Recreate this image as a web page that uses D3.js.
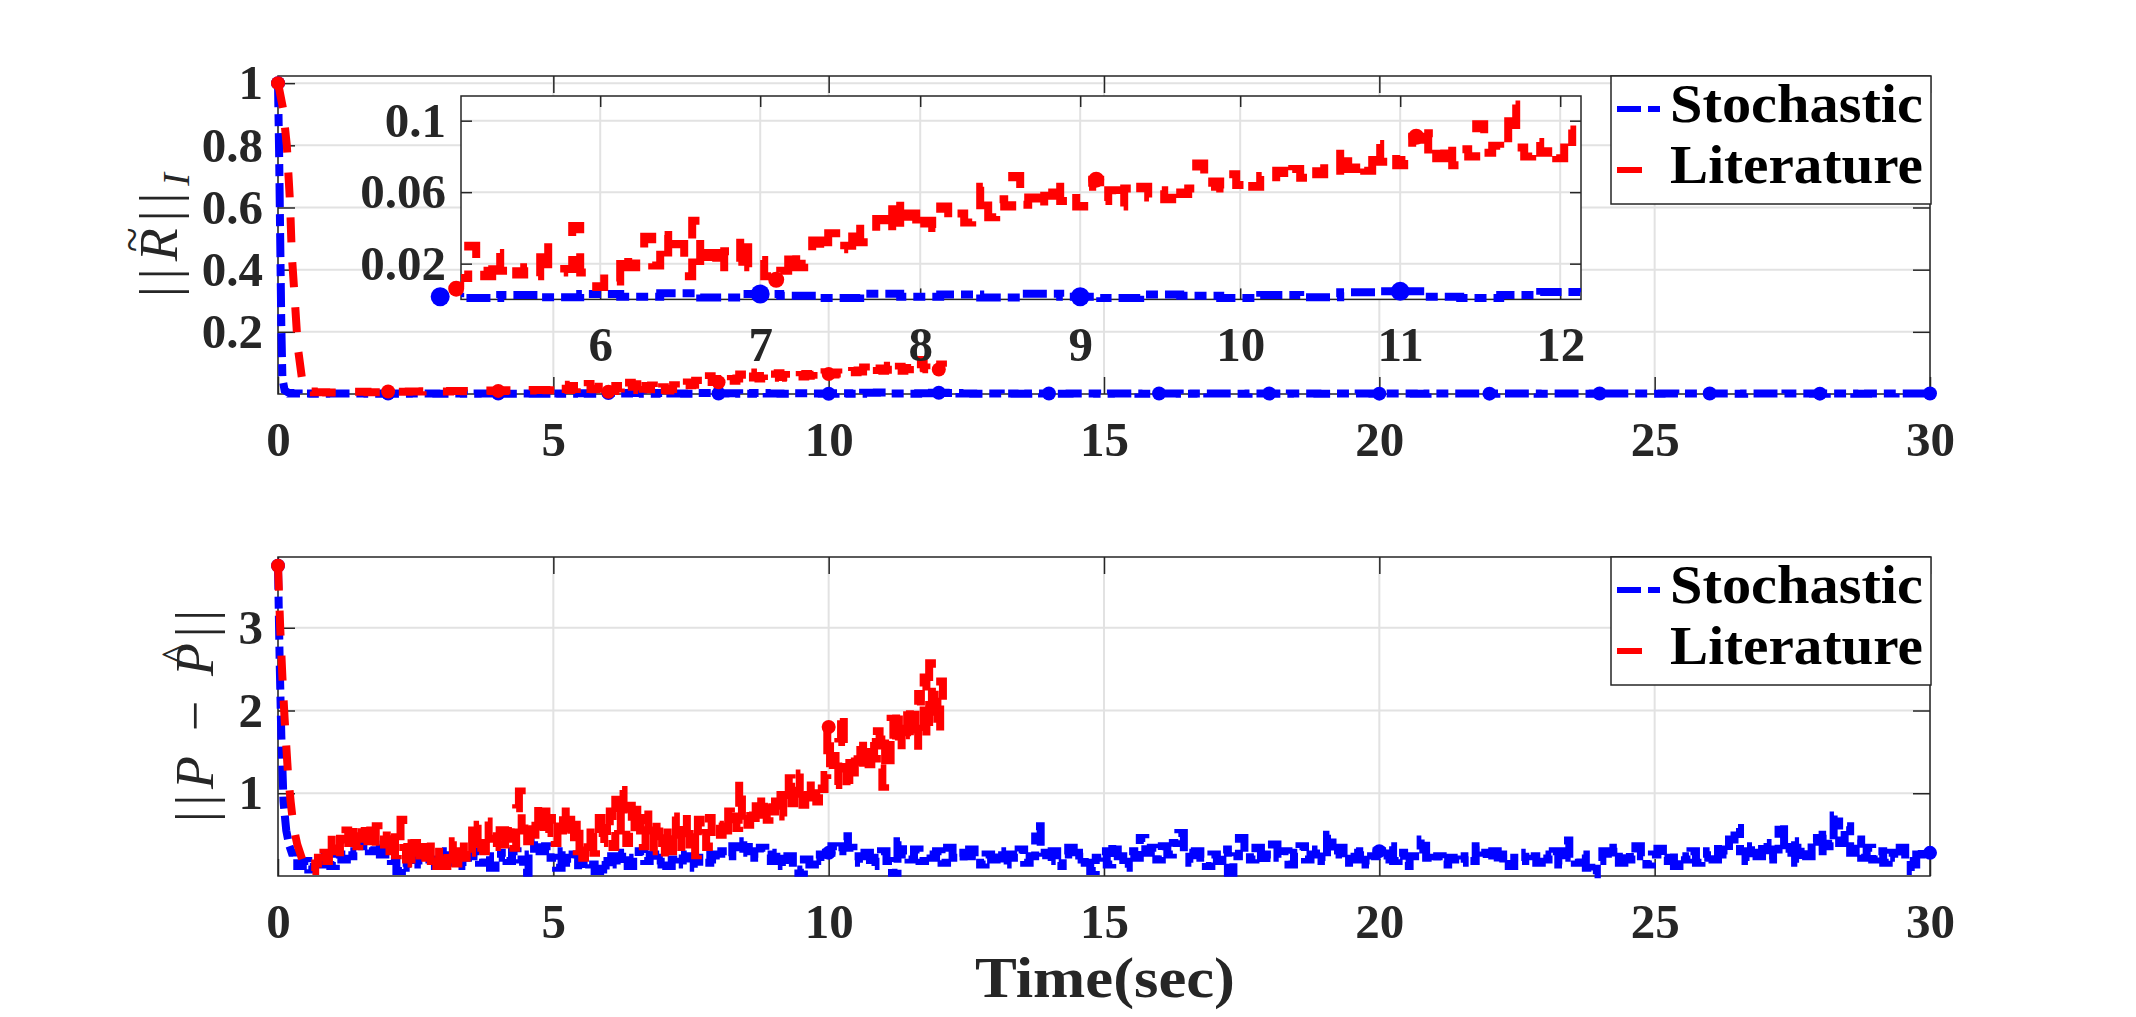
<!DOCTYPE html>
<html><head><meta charset="utf-8">
<script src="https://cdn.jsdelivr.net/npm/d3@7"></script>
<style>body{margin:0;background:#fff}svg{display:block}</style>
</head><body>
<svg id="chart" width="2136" height="1017"></svg>
<script>
// ---------------- DATA ----------------
const seriesNames = ["Stochastic", "Literature"];
const xTicksMain = [0, 5, 10, 15, 20, 25, 30];
const yTicksTop = [0.2, 0.4, 0.6, 0.8, 1];
const yTickLabelsTop = ["0.2", "0.4", "0.6", "0.8", "1"];
const yTicksBottom = [1, 2, 3];
const yTickLabelsBottom = ["1", "2", "3"];
const xTicksInset = [6, 7, 8, 9, 10, 11, 12];
const yTicksInset = [0.02, 0.06, 0.1];
const yTickLabelsInset = ["0.02", "0.06", "0.1"];
const xLabel = "Time(sec)";

// Top panel, Stochastic (blue)
const topBlueDecayT = [0, 0.02, 0.04, 0.06, 0.08, 0.12, 0.2];
const topBlueDecayV = [1.0, 0.78, 0.5, 0.22, 0.05, 0.012, 0.003];
const topBlueStart = 0.25, topBlueStep = 0.25;
const topBlueV = [
  0.002,0.0015,0.001,0.0015,0.002,0.0015,0.001,0.0015,
  0.0012,0.0018,0.0015,0.001,0.0016,0.0012,0.0018,0.0014,
  0.0012,0.0016,0.001,0.0015,0.0008,0.0025,0.0012,0.003,
  0.0015,0.0035,0.001,0.003,0.002,0.0008,0.0032,0.0015,
  0.0028,0.001,0.0032,0.0015,0.0008,0.0028,0.002,0.0008,
  0.0025,0.0012,0.004,0.0045,0.0015,0.0008,0.0025,0.0042,
  0.003,0.0015,0.0012,0.0018,0.0014,0.0012,0.0016,0.0014,
  0.0012,0.0016,0.0014,0.0012,0.0018,0.0014,0.0012,0.0016,
  0.0014,0.0012,0.0016,0.0013,0.0015,0.0012,0.0016,0.0014,
  0.0012,0.0016,0.0014,0.0012,0.0015,0.0013,0.0016,0.0012,
  0.0014,0.0016,0.0012,0.0015,0.0013,0.0016,0.0014,0.0012,
  0.0016,0.0013,0.0015,0.0012,0.0016,0.0014,0.0012,0.0015,
  0.0013,0.0016,0.0014,0.0012,0.0016,0.0015,0.0013,0.0016,
  0.0014,0.0012,0.0016,0.0015,0.0013,0.0016,0.0014,0.0012,
  0.0016,0.0014,0.0012,0.0015,0.0013,0.0016,0.0014,0.0015
];

// Top panel, Literature (red)
const topRedDecayT = [0, 0.09, 0.16, 0.22, 0.25, 0.31, 0.36, 0.45, 0.55];
const topRedDecayV = [1.0, 0.92, 0.8, 0.61, 0.45, 0.29, 0.15, 0.03, 0.008];
const topRedMidStart = 0.75, topRedMidStep = 0.25;
const topRedMidV = [0.006,0.005,0.006,0.007,0.006,0.008,0.007,0.008,0.009,0.008,0.010,0.009,0.011,0.010,0.012,0.011,0.013,0.012];
const topRedFineStart = 5.05, topRedFineStep = 0.05;
const topRedFineV = [
  0.010,0.006,0.012,0.030,0.016,0.013,0.026,0.016,0.020,0.014,0.018,0.013,0.032,0.016,0.015,0.017,0.041,0.015,0.010,
  0.007,0.014,0.010,0.026,0.018,0.024,0.035,0.019,0.036,0.023,0.031,0.013,0.044,0.017,0.026,0.015,0.027,0.021,0.036,0.018,
  0.022,0.013,0.011,0.016,0.028,0.018,0.020,0.033,0.026,0.037,0.028,0.030,0.043,0.032,0.036,0.045,0.037,0.057,0.039,0.048,
  0.038,0.044,0.040,0.052,0.044,0.048,0.043,0.050,0.063,0.046,0.056,0.052,0.069,0.053,0.057,0.050,0.058,0.067,0.055,0.060,
  0.052,0.063,0.067,0.055,0.061,0.052,0.062,0.058,0.063,0.057,0.061,0.056,0.064,0.059,0.062,0.076,0.063,0.066,0.062,0.070,
  0.064,0.068,0.063,0.069,0.066,0.072,0.067,0.073,0.068,0.074,0.070,0.076,0.072,0.085,0.073,0.078,0.072,0.087,0.077,0.082,
  0.075,0.078,0.091,0.081,0.093,0.079,0.088,0.075,0.084,0.080,0.098,0.082,0.086,0.083,0.109,0.085,0.080,0.088,0.082,0.086,
  0.079,0.095,0.088
];

// Bottom panel, Stochastic (blue)
const botBlueDecayT = [0, 0.03, 0.06, 0.1, 0.15, 0.2, 0.25];
const botBlueDecayV = [3.75, 2.6, 1.7, 0.9, 0.55, 0.38, 0.28];
const botBlueStart = 0.3, botBlueStep = 0.1;
const botBlueV = [
  0.22,0.12,0.18,0.08,0.20,0.14,0.24,
  0.12,0.26,0.20,0.30,0.24,0.36,0.44,0.30,0.38,0.26,
  0.40,0.18,0.06,0.16,0.10,0.24,0.14,0.30,0.20,0.12,
  0.20,0.30,0.16,0.26,0.12,0.24,0.30,0.16,0.24,0.10,
  0.22,0.28,0.18,0.30,0.20,0.04,0.26,0.42,0.30,0.36,
  0.22,0.10,0.30,0.16,0.26,0.08,0.20,0.14,0.06,0.18,
  0.08,0.24,0.14,0.28,0.12,0.22,0.30,0.18,0.26,0.14,
  0.22,0.12,0.20,0.26,0.14,0.24,0.10,0.22,0.16,0.26,
  0.20,0.30,0.24,0.36,0.28,0.42,0.30,0.22,0.34,0.26,
  0.18,0.28,0.12,0.24,0.08,0.04,0.20,0.14,0.26,0.18,
  0.28,0.36,0.30,0.48,0.34,0.24,0.16,0.28,0.12,0.22,
  0.30,0.18,0.04,0.42,0.26,0.20,0.32,0.18,0.26,0.22,
  0.30,0.16,0.34,0.22,0.28,0.18,0.32,0.24,0.14,0.26,
  0.20,0.30,0.14,0.26,0.22,0.32,0.16,0.24,0.60,0.28,
  0.18,0.30,0.12,0.26,0.34,0.20,0.28,0.16,0.06,0.22,
  0.30,0.14,0.38,0.24,0.10,0.30,0.22,0.46,0.28,0.34,
  0.20,0.36,0.26,0.40,0.52,0.28,0.16,0.30,0.22,0.12,
  0.26,0.18,0.32,0.04,0.24,0.46,0.28,0.20,0.34,0.16,
  0.26,0.38,0.22,0.30,0.14,0.28,0.36,0.20,0.26,0.32,
  0.18,0.50,0.26,0.34,0.16,0.28,0.20,0.30,0.14,0.24,
  0.30,0.20,0.36,0.18,0.28,0.12,0.24,0.32,0.44,0.22,
  0.18,0.24,0.14,0.22,0.20,0.16,0.24,0.18,0.36,0.28,
  0.20,0.30,0.16,0.26,0.12,0.22,0.18,0.28,0.24,0.16,
  0.26,0.20,0.30,0.14,0.43,0.22,0.16,0.26,0.10,0.02,
  0.18,0.30,0.22,0.34,0.16,0.28,0.20,0.36,0.24,0.14,
  0.26,0.33,0.18,0.28,0.12,0.24,0.20,0.30,0.16,0.22,
  0.30,0.20,0.38,0.26,0.44,0.58,0.30,0.18,0.36,0.24,
  0.40,0.20,0.32,0.62,0.28,0.42,0.16,0.34,0.24,0.46,
  0.30,0.50,0.36,0.73,0.40,0.60,0.28,0.44,0.22,0.34,
  0.20,0.30,0.16,0.28,0.22,0.34,0.18,0.06,0.26,0.32,
  0.28
];

// Bottom panel, Literature (red)
const botRedDecayT = [0, 0.04, 0.08, 0.12, 0.18, 0.23, 0.28, 0.35, 0.44, 0.52, 0.58];
const botRedDecayV = [3.75, 3.0, 2.4, 1.9, 1.25, 0.9, 0.6, 0.38, 0.2, 0.1, 0.04];
const botRedStart = 0.65, botRedStep = 0.05;
const botRedV = [
  0.06,0.15,0.22,0.12,0.28,0.18,0.50,
  0.30,0.38,0.22,0.45,0.35,0.55,0.40,0.62,0.48,0.36,0.58,0.45,0.66,0.42,0.55,0.35,0.60,0.47,0.52,0.38,
  0.62,0.30,0.55,0.25,0.48,0.68,0.35,0.20,0.45,0.15,0.40,0.28,0.12,0.35,0.22,0.42,0.18,0.30,0.12,0.38,
  0.25,0.12,0.35,0.20,0.42,0.15,0.30,0.48,0.22,0.38,0.28,0.55,0.34,0.62,0.40,0.30,0.66,0.45,0.52,0.35,
  0.48,0.62,0.38,0.70,0.45,0.58,0.34,0.82,1.02,0.55,0.72,0.42,0.66,0.50,0.85,0.60,0.45,0.78,0.52,0.70,
  0.60,0.40,0.75,0.55,0.88,0.45,0.68,0.36,0.62,0.30,0.56,0.22,0.48,0.35,0.65,0.28,0.52,0.70,0.40,0.58,
  0.45,0.78,0.35,0.92,0.55,1.04,0.62,0.40,0.85,0.50,0.95,0.42,0.70,0.36,0.80,0.55,0.30,0.72,0.48,0.65,
  0.40,0.15,0.58,0.30,0.72,0.45,0.62,0.28,0.55,0.75,0.38,0.60,0.25,0.68,0.45,0.52,0.35,0.70,0.48,0.58,
  0.62,0.50,0.70,0.55,0.78,0.60,0.72,0.58,1.16,0.68,0.80,0.62,0.88,0.70,0.95,0.74,1.02,0.82,0.68,0.90,
  0.78,1.05,0.85,1.12,0.72,0.98,1.18,0.88,1.08,0.92,1.24,0.86,1.10,0.95,1.20,1.00,0.90,1.15,1.05,1.22,
  1.80,1.20,1.45,1.10,1.62,2.00,1.30,1.00,1.48,1.25,1.55,1.38,1.70,1.28,1.50,1.35,1.62,1.42,1.75,1.30,
  1.08,1.65,1.40,1.90,1.55,2.05,1.48,1.78,1.62,2.10,1.70,1.95,1.52,2.20,1.80,2.40,1.65,2.57,1.85,2.30,
  1.70,2.35,1.95
];

// Marker times
const topMarkerTimesBlue = [0,2,4,6,8,10,12,14,16,18,20,22,24,26,28,30];
const topMarkerTimesRed = [0,2,4,6,8,10,12];
const insetMarkerTimes = [5.12, 7.12, 9.12, 11.12];
const botMarkerTimesBlue = [0, 10, 20, 30];
const botMarkerTimesRed = [0, 10];

// ---------------- HELPERS ----------------
function buildSeries(decayT, decayV, segments) {
  const decay = decayT.map((t, i) => [t, decayV[i]]);
  const noisy = [];
  segments.forEach(([start, step, vals]) =>
    vals.forEach((v, i) => noisy.push([+(start + i * step).toFixed(3), v])));
  return { decay, noisy, all: decay.concat(noisy) };
}
function nearest(series, t) {
  let best = series[0];
  series.forEach(p => { if (Math.abs(p[0] - t) < Math.abs(best[0] - t)) best = p; });
  return best;
}

const topBlue = buildSeries(topBlueDecayT, topBlueDecayV, [[topBlueStart, topBlueStep, topBlueV]]);
const topRed = buildSeries(topRedDecayT, topRedDecayV, [[topRedMidStart, topRedMidStep, topRedMidV], [topRedFineStart, topRedFineStep, topRedFineV]]);
const botBlue = buildSeries(botBlueDecayT, botBlueDecayV, [[botBlueStart, botBlueStep, botBlueV]]);
const botRed = buildSeries(botRedDecayT, botRedDecayV, [[botRedStart, botRedStep, botRedV]]);

const FONT = "'Liberation Serif','Times New Roman',serif";
const AXIS_COLOR = "#262626";
const GRID_COLOR = "#e2e2e2";
const BLUE = "#0000ff", RED = "#ff0000";
const LINE_W = 8;
const STYLE = {
  blue: { color: BLUE, dash: "24,7,12,7" },
  red: { color: RED, dash: "25,20" }
};

const svg = d3.select("#chart");
svg.append("rect").attr("width", 2136).attr("height", 1017).attr("fill", "#fff");

function makePanel(cfg) {
  const x = d3.scaleLinear().domain(cfg.xdom).range([cfg.x0, cfg.x1]);
  const y = d3.scaleLinear().domain(cfg.ydom).range([cfg.y1, cfg.y0]);
  const g = svg.append("g");
  g.append("rect").attr("x", cfg.x0).attr("y", cfg.y0)
    .attr("width", cfg.x1 - cfg.x0).attr("height", cfg.y1 - cfg.y0).attr("fill", "#fff");
  g.append("g").selectAll("line").data(cfg.xTicks).join("line")
    .attr("x1", d => x(d)).attr("x2", d => x(d)).attr("y1", cfg.y0).attr("y2", cfg.y1)
    .attr("stroke", GRID_COLOR).attr("stroke-width", 2);
  g.append("g").selectAll("line").data(cfg.yTicks).join("line")
    .attr("y1", d => y(d)).attr("y2", d => y(d)).attr("x1", cfg.x0).attr("x2", cfg.x1)
    .attr("stroke", GRID_COLOR).attr("stroke-width", 2);

  const tl = cfg.tickLen;
  const styleTicks = sel => {
    sel.select(".domain").remove();
    sel.attr("font-family", null).attr("font-size", null);
    sel.selectAll(".tick line").attr("stroke", AXIS_COLOR).attr("stroke-width", 1.5);
    sel.selectAll(".tick text").attr("font-family", FONT).attr("font-weight", "bold")
      .attr("font-size", 49).attr("fill", AXIS_COLOR);
  };
  g.append("g").attr("transform", `translate(0,${cfg.y1})`)
    .call(d3.axisBottom(x).tickValues(cfg.xTicks).tickSize(-tl).tickSizeOuter(0).tickPadding(27).tickFormat(d3.format("d")))
    .call(styleTicks);
  g.append("g").attr("transform", `translate(0,${cfg.y0})`)
    .call(d3.axisTop(x).tickValues(cfg.xTicks).tickSize(-tl).tickSizeOuter(0).tickFormat(""))
    .call(styleTicks);
  g.append("g").attr("transform", `translate(${cfg.x0},0)`)
    .call(d3.axisLeft(y).tickValues(cfg.yTicks).tickSize(-tl).tickSizeOuter(0).tickPadding(15)
      .tickFormat((d, i) => cfg.yLabels[i]))
    .call(styleTicks);
  g.append("g").attr("transform", `translate(${cfg.x1},0)`)
    .call(d3.axisRight(y).tickValues(cfg.yTicks).tickSize(-tl).tickSizeOuter(0).tickFormat(""))
    .call(styleTicks);
  g.append("rect").attr("x", cfg.x0).attr("y", cfg.y0)
    .attr("width", cfg.x1 - cfg.x0).attr("height", cfg.y1 - cfg.y0)
    .attr("fill", "none").attr("stroke", AXIS_COLOR).attr("stroke-width", 1.5);
  return { g, x, y, cfg };
}

function drawSeries(p, s, style, markerTimes, r, clipId) {
  const lin = d3.line().x(d => p.x(d[0])).y(d => p.y(d[1]));
  const stp = d3.line().curve(d3.curveStep).x(d => p.x(d[0])).y(d => p.y(d[1]));
  const last = s.decay[s.decay.length - 1];
  const dPath = lin(s.decay) + stp([last].concat(s.noisy)).replace(/^M/, "L");
  const lg = p.g.append("g");
  if (clipId) lg.attr("clip-path", `url(#${clipId})`);
  lg.append("path").attr("d", dPath)
    .attr("fill", "none").attr("stroke", style.color).attr("stroke-width", LINE_W)
    .attr("stroke-dasharray", style.dash).attr("stroke-linejoin", "miter").attr("stroke-miterlimit", 2)
    .attr("stroke-linecap", "butt");
  p.g.append("g").selectAll("circle").data(markerTimes.map(t => nearest(s.all, t))).join("circle")
    .attr("cx", d => p.x(d[0])).attr("cy", d => p.y(d[1])).attr("r", r).attr("fill", style.color);
}

function drawLegend(y0) {
  const lg = svg.append("g");
  lg.append("rect").attr("x", 1611).attr("y", y0).attr("width", 320).attr("height", 128)
    .attr("fill", "#fff").attr("stroke", AXIS_COLOR).attr("stroke-width", 1.5);
  const rows = [{ name: seriesNames[0], s: STYLE.blue, dy: 33 }, { name: seriesNames[1], s: STYLE.red, dy: 94 }];
  rows.forEach(rw => {
    lg.append("line").attr("x1", 1617).attr("x2", 1661).attr("y1", y0 + rw.dy).attr("y2", y0 + rw.dy)
      .attr("stroke", rw.s.color).attr("stroke-width", 6).attr("stroke-dasharray", rw.s.dash);
    lg.append("text").attr("x", 1670).attr("y", y0 + rw.dy + 13).text(rw.name)
      .attr("font-family", FONT).attr("font-weight", "bold").attr("font-size", 54)
      .attr("textLength", 253).attr("lengthAdjust", "spacingAndGlyphs").attr("fill", "#000");
  });
}

// ---------------- TOP PANEL ----------------
const topP = makePanel({ x0: 278, x1: 1930, y0: 76, y1: 394, xdom: [0, 30], ydom: [0, 1.023],
  xTicks: xTicksMain, yTicks: yTicksTop, yLabels: yTickLabelsTop, tickLen: 17 });
drawSeries(topP, topBlue, STYLE.blue, topMarkerTimesBlue, 7);
drawSeries(topP, topRed, STYLE.red, topMarkerTimesRed, 7);
drawLegend(76);

// Inset
const inset = makePanel({ x0: 461, x1: 1581, y0: 96, y1: 299.4, xdom: [5.13, 12.13], ydom: [0, 0.1138],
  xTicks: xTicksInset, yTicks: yTicksInset, yLabels: yTickLabelsInset, tickLen: 11 });
svg.append("defs").append("clipPath").attr("id", "insetClip").append("rect")
  .attr("x", 461).attr("y", 90).attr("width", 1120).attr("height", 216);
drawSeries(inset, topBlue, STYLE.blue, insetMarkerTimes, 9.5, "insetClip");
drawSeries(inset, topRed, STYLE.red, insetMarkerTimes, 8, "insetClip");

// ---------------- BOTTOM PANEL ----------------
const botP = makePanel({ x0: 278, x1: 1930, y0: 557, y1: 876, xdom: [0, 30], ydom: [0, 3.855],
  xTicks: xTicksMain, yTicks: yTicksBottom, yLabels: yTickLabelsBottom, tickLen: 17 });
drawSeries(botP, botBlue, STYLE.blue, botMarkerTimesBlue, 7);
drawSeries(botP, botRed, STYLE.red, botMarkerTimesRed, 7);
drawLegend(557);

// ---------------- LABELS ----------------
svg.append("text").attr("x", 1105).attr("y", 997).attr("text-anchor", "middle")
  .attr("font-family", FONT).attr("font-weight", "bold").attr("font-size", 58)
  .attr("textLength", 260).attr("lengthAdjust", "spacingAndGlyphs").attr("fill", AXIS_COLOR).text(xLabel);

function mathLabel(tx, ty, parts, len, accent) {
  const g = svg.append("g").attr("transform", `translate(${tx},${ty}) rotate(-90)`);
  const t = g.append("text").attr("x", 0).attr("y", 0).attr("text-anchor", "middle")
    .attr("font-family", FONT).attr("font-size", 54).attr("fill", AXIS_COLOR)
    .attr("textLength", len).attr("lengthAdjust", "spacing");
  parts.forEach(pt => {
    const ts = t.append("tspan").text(pt.s);
    if (pt.it) ts.attr("font-style", "italic");
    if (pt.fs) ts.attr("font-size", pt.fs);
    if (pt.dy) ts.attr("dy", pt.dy);
  });
  const node = t.node();
  const a = node.getStartPositionOfChar(accent.idx);
  const b = node.getEndPositionOfChar(accent.idx);
  g.append("text").attr("x", (a.x + b.x) / 2 + accent.dx).attr("y", accent.y)
    .attr("text-anchor", "middle").attr("font-family", FONT).attr("font-size", accent.fs)
    .attr("fill", AXIS_COLOR).text(accent.ch);
}
mathLabel(177, 235,
  [{ s: "||" }, { s: "R", it: true }, { s: "||" }, { s: "I", it: true, fs: 38, dy: 12 }],
  124, { idx: 2, ch: "~", dx: 5, y: -30, fs: 46 });
mathLabel(213, 716,
  [{ s: "||" }, { s: "P", it: true }, { s: " \u2212 " }, { s: "P", it: true }, { s: "||" }],
  212, { idx: 6, ch: "^", dx: 5, y: -22, fs: 44 });
</script>
</body></html>
